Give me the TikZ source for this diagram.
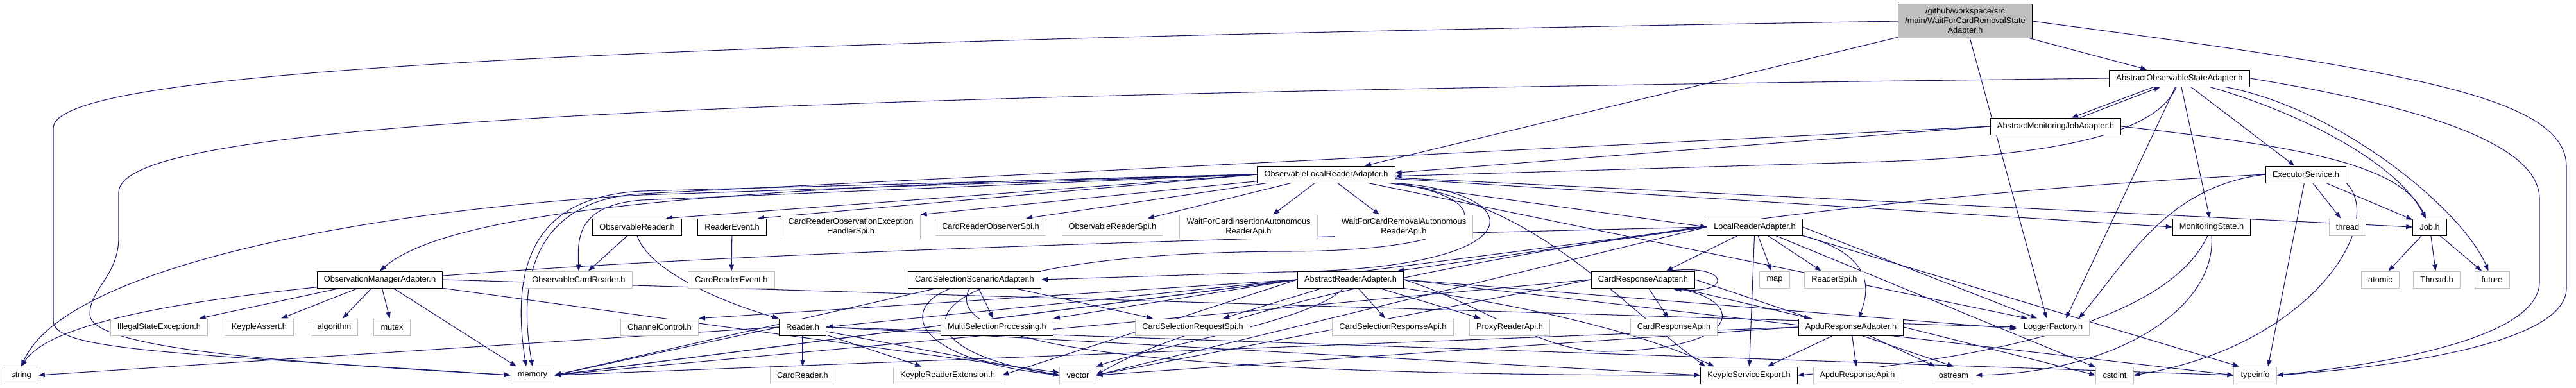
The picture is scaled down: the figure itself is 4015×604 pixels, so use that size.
\documentclass[tikz,border=0pt]{standalone}
\usepackage{fontspec}
\setmainfont{Liberation Sans}
\usepackage{tikz}
\usetikzlibrary{arrows.meta, calc, backgrounds}
\definecolor{edgeblue}{HTML}{191970}
\definecolor{extgray}{HTML}{BFBFBF}
\newcommand{\graphfont}{\fontsize{9.6pt}{11.25pt}\selectfont}

\begin{document}
\begin{tikzpicture}[
    x=0.75pt, y=-0.75pt,
    box/.style={rectangle, draw=black, fill=white, line width=0.75pt, inner xsep=8pt, inner ysep=4pt, minimum height=19.5pt, align=center, font=\graphfont},
    ext/.style={box, draw=extgray},
    rootbox/.style={box, fill=extgray},
    arrow/.style={-{Triangle[length=7.5pt, width=5.5pt]}, draw=edgeblue, line width=0.8pt},
]
\useasboundingbox (0,0) rectangle (4015,604);

\node[rootbox] (root) at (3063,33) {/github/workspace/src\\/main/WaitForCardRemovalState\\Adapter.h};
\node[box] (aosa) at (3397,122) {AbstractObservableStateAdapter.h};
\node[box] (amja) at (3204,197) {AbstractMonitoringJobAdapter.h};
\node[box] (olra) at (2067,272) {ObservableLocalReaderAdapter.h};
\node[box] (exec) at (3594,272) {ExecutorService.h};

\node[box] (obsrd) at (993,354) {ObservableReader.h};
\node[box] (rdevt) at (1141,354) {ReaderEvent.h};
\node[ext] (croeh) at (1326,354) {CardReaderObservationException\\HandlerSpi.h};
\node[ext] (croso) at (1544,354) {CardReaderObserverSpi.h};
\node[ext] (obsspi) at (1734,354) {ObservableReaderSpi.h};
\node[ext] (wfcia) at (1946,354) {WaitForCardInsertionAutonomous\\ReaderApi.h};
\node[ext] (wfcra) at (2188,354) {WaitForCardRemovalAutonomous\\ReaderApi.h};
\node[box] (lra) at (2735,354) {LocalReaderAdapter.h};
\node[box] (monst) at (3447,354) {MonitoringState.h};
\node[ext] (thread) at (3659,354) {thread};
\node[box] (job) at (3787,354) {Job.h};

\node[box] (oma) at (592,436) {ObservationManagerAdapter.h};
\node[ext] (obscr) at (902,436) {ObservableCardReader.h};
\node[ext] (crevt) at (1140,436) {CardReaderEvent.h};
\node[box] (cssa) at (1519,436) {CardSelectionScenarioAdapter.h};
\node[box] (ara) at (2105,436) {AbstractReaderAdapter.h};
\node[box] (cra) at (2561,436) {CardResponseAdapter.h};
\node[ext] (map) at (2766,436) {map};
\node[ext] (rdspi) at (2859,436) {ReaderSpi.h};
\node[ext] (atomic) at (3710,436) {atomic};
\node[ext] (threadh) at (3798,436) {Thread.h};
\node[ext] (future) at (3884,436) {future};

\node[ext] (ise) at (248,510) {IllegalStateException.h};
\node[ext] (kassert) at (404,510) {KeypleAssert.h};
\node[ext] (algo) at (521,510) {algorithm};
\node[ext] (mutex) at (611,510) {mutex};
\node[ext] (chctl) at (1028,510) {ChannelControl.h};
\node[box] (reader) at (1251,510) {Reader.h};
\node[box] (msp) at (1554,510) {MultiSelectionProcessing.h};
\node[ext] (csrspi) at (1859,510) {CardSelectionRequestSpi.h};
\node[ext] (csrapi) at (2171,510) {CardSelectionResponseApi.h};
\node[ext] (proxy) at (2353,510) {ProxyReaderApi.h};
\node[ext] (crapi) at (2609,510) {CardResponseApi.h};
\node[box] (apdura) at (2885,510) {ApduResponseAdapter.h};
\node[ext] (logger) at (3200,510) {LoggerFactory.h};

\node[ext] (string) at (33,585) {string};
\node[ext] (memory) at (830,585) {memory};
\node[ext] (cardrd) at (1251,585) {CardReader.h};
\node[ext] (kre) at (1477,585) {KeypleReaderExtension.h};
\node[ext] (vector) at (1680,585) {vector};
\node[box] (kse) at (2726,585) {KeypleServiceExport.h};
\node[ext] (apduapi) at (2895,585) {ApduResponseApi.h};
\node[ext] (ostream) at (3045,585) {ostream};
\node[ext] (cstdint) at (3296,585) {cstdint};
\node[ext] (typeinfo) at (3515,585) {typeinfo};

\begin{scope}[on background layer]
\draw[arrow] (root.west) .. controls (700,70) and (83,120) .. (83,200) -- (83,500) .. controls (83,545) and (250,550) .. (memory.west);
\draw[arrow] (root) -- (aosa);
\draw[arrow] (root) -- ($(olra.north)+(60,0)$);
\draw[arrow] (root) -- ($(logger.north)+(-10,0)$);
\draw[arrow] (root.east) .. controls (3750,110) and (4000,150) .. (4000,260) -- (4000,450) .. controls (4000,540) and (3700,575) .. (typeinfo.east);

\draw[arrow] ($(aosa.south)+(-40,0)$) -- ($(amja.north)+(25,0)$);
\draw[arrow] (aosa.west) .. controls (900,150) and (185,200) .. (185,300) -- (185,370) .. controls (185,430) and (140,450) .. (140,490) .. controls (140,545) and (450,565) .. (memory.west);
\draw[arrow] (aosa.250) .. controls (3360,210) and (3200,245) .. (2900,253) -- ([yshift=-2pt]olra.east);
\draw[arrow] (aosa) -- ($(logger.north)+(20,0)$);
\draw[arrow] (aosa) -- (monst);
\draw[arrow] (aosa) -- (exec);
\draw[arrow] (aosa) .. controls (3600,180) and (3740,260) .. (job);
\draw[arrow] (aosa) .. controls (3650,170) and (3840,330) .. (future);
\draw[arrow] (aosa.east) .. controls (3800,170) and (3958,230) .. (3958,310) -- (3958,440) .. controls (3958,530) and (3700,570) .. (typeinfo.east);

\draw[arrow] ($(amja.north)+(38,0)$) -- ($(aosa.south)+(-30,0)$);
\draw[arrow] (amja.west) -- ([yshift=2pt]olra.east);
\draw[arrow] (amja.east) .. controls (3550,225) and (3740,250) .. (job);
\draw[arrow] (amja.west) -- (1000,302) .. controls (860,310) and (800,400) .. (memory.north);

\draw[arrow] (olra.west) .. controls (1100,290) and (700,330) .. (oma.north);
\draw[arrow] (olra.west) -- ($(obsrd.north)+(45,0)$);
\draw[arrow] (olra.west) -- ($(rdevt.north)+(40,0)$);
\draw[arrow] (olra) -- (croeh.north east);
\draw[arrow] (olra) -- ($(croso.north)+(55,0)$);
\draw[arrow] (olra) -- ($(obsspi.north)+(55,0)$);
\draw[arrow] (olra) -- ($(wfcia.north)+(38,0)$);
\draw[arrow] (olra) -- ($(wfcra.north)+(-38,0)$);
\draw[arrow] (olra) -- (lra.west);
\draw[arrow] (olra) -- (monst.west);
\draw[arrow] (olra) -- (job.west);
\draw[arrow] (olra) -- ($(logger.north)+(-40,0)$);
\draw[arrow] (olra.south east) .. controls (2400,320) and (2520,470) .. ($(kse.north west)+(8,0)$);
\draw[arrow] (olra.west) -- (1000,298) .. controls (860,305) and (790,380) .. ($(memory.north)+(-10,0)$);
\draw[arrow] (olra.west) -- (1000,304) .. controls (550,330) and (100,420) .. (string.north);
\draw[arrow] (olra.west) -- (1000,312) .. controls (900,320) and (900,370) .. (obscr.north);
\draw[arrow] (olra.south east) .. controls (2340,310) and (2340,392) .. (2000,392) .. controls (1400,395) and (1360,540) .. (vector.west);
\draw[arrow] (olra.south east) .. controls (2390,300) and (2400,420) .. (2000,424) -- (cssa.east);

\draw[arrow] (oma) -- (ise);
\draw[arrow] (oma) -- (kassert);
\draw[arrow] (oma) -- (algo);
\draw[arrow] (oma) -- (mutex);
\draw[arrow] (oma) -- ($(memory.north)+(-25,0)$);
\draw[arrow] (oma.east) -- (logger.west);
\draw[arrow] (oma) -- (vector);

\draw[arrow] (obsrd) -- (obscr);
\draw[arrow] (obsrd.south) .. controls (1010,420) and (1120,470) .. (reader.north west);
\draw[arrow] (rdevt) -- (crevt);

\draw[arrow] (cssa) -- (msp);
\draw[arrow] (cssa) -- (csrspi);
\draw[arrow] (cssa) .. controls (1400,480) and (1420,560) .. (vector.west);
\draw[arrow] (cssa) .. controls (1460,540) and (1800,585) .. (kse.west);
\draw[arrow] (cssa) -- (memory.east);

\draw[arrow] (ara.west) -- (chctl.north east);
\draw[arrow] (ara.west) -- (reader.east);
\draw[arrow] (ara.west) -- (msp.north east);
\draw[arrow] (ara) -- ($(csrspi.north)+(47,0)$);
\draw[arrow] (ara) -- (csrapi);
\draw[arrow] (ara) -- (proxy);
\draw[arrow] (ara.south east) .. controls (2400,480) and (2560,520) .. ($(kse.north west)+(22,0)$);
\draw[arrow] (ara.east) -- ([yshift=-2pt]logger.west);
\draw[arrow] (ara) .. controls (2050,500) and (1800,540) .. (vector.north east);
\draw[arrow] (ara.west) -- (memory.east);
\draw[arrow] (ara.east) -- (typeinfo.west);
\draw[arrow] (ara.west) -- (kre.east);
\draw[arrow] (ara.east) .. controls (2300,470) and (2400,548) .. (2500,548) .. controls (2720,545) and (2720,470) .. ($(cra.south)+(50,0)$);

\draw[arrow] (reader) -- (cardrd);
\draw[arrow] (reader) -- (kre);
\draw[arrow] (reader.west) -- (string.east);
\draw[arrow] (reader.west) -- (memory.east);
\draw[arrow] (reader) -- (vector.west);
\draw[arrow] (reader.east) -- (typeinfo.west);
\draw[arrow] (reader.east) -- (kse.west);

\draw[arrow] (lra.west) -- ($(ara.north east)+(-10,0)$);
\draw[arrow] (lra) -- ($(cra.north)+(36,0)$);
\draw[arrow] (lra.south east) .. controls (2930,400) and (2910,460) .. ($(apdura.north)+(12,0)$);
\draw[arrow] (lra) -- (kse);
\draw[arrow] (lra) -- (map);
\draw[arrow] (lra) -- (rdspi);
\draw[arrow] (lra.west) -- (memory.east);
\draw[arrow] (lra.west) .. controls (900,395) and (120,440) .. (string.north);
\draw[arrow] (lra.west) -- (vector.east);
\draw[arrow] (lra.east) -- ($(logger.north)+(-25,0)$);
\draw[arrow] (lra.south east) -- ($(typeinfo.north)+(-25,0)$);
\draw[arrow] (lra) -- (cstdint);

\draw[arrow] ($(cra.north)+(40,0)$) .. controls (2700,410) and (2700,462) .. ($(cra.south)+(45,0)$);
\draw[arrow] (cra) -- (crapi);
\draw[arrow] (cra) -- ($(apdura.north)+(-63,0)$);
\draw[arrow] (cra.west) -- (memory.east);
\draw[arrow] (cra.west) -- (vector.east);
\draw[arrow] (cra.east) -- (ostream.north);

\draw[arrow] (apdura) -- (kse);
\draw[arrow] (apdura) -- (apduapi);
\draw[arrow] (apdura.west) -- (memory.east);
\draw[arrow] (apdura.west) -- (vector.east);
\draw[arrow] (apdura) -- (ostream);
\draw[arrow] (apdura.east) -- (cstdint.west);

\draw[arrow] (monst.south) .. controls (3455,480) and (3300,580) .. (ostream.east);
\draw[arrow] (monst) .. controls (3380,500) and (3100,560) .. (kse.east);

\draw[arrow] (job) -- (atomic);
\draw[arrow] (job) -- (threadh);
\draw[arrow] (job) -- (future);

\draw[arrow] (exec) -- (thread);
\draw[arrow] (exec) -- (job);
\draw[arrow] (exec.west) .. controls (3380,290) and (3320,400) .. ($(logger.north)+(40,0)$);
\draw[arrow] (exec.west) .. controls (2600,320) and (1900,470) .. (vector.east);
\draw[arrow] (exec) -- ($(typeinfo.north)+(20,0)$);
\draw[arrow] (exec.south east) .. controls (3720,350) and (3600,540) .. (cstdint.east);
\end{scope}

\end{tikzpicture}
\end{document}
